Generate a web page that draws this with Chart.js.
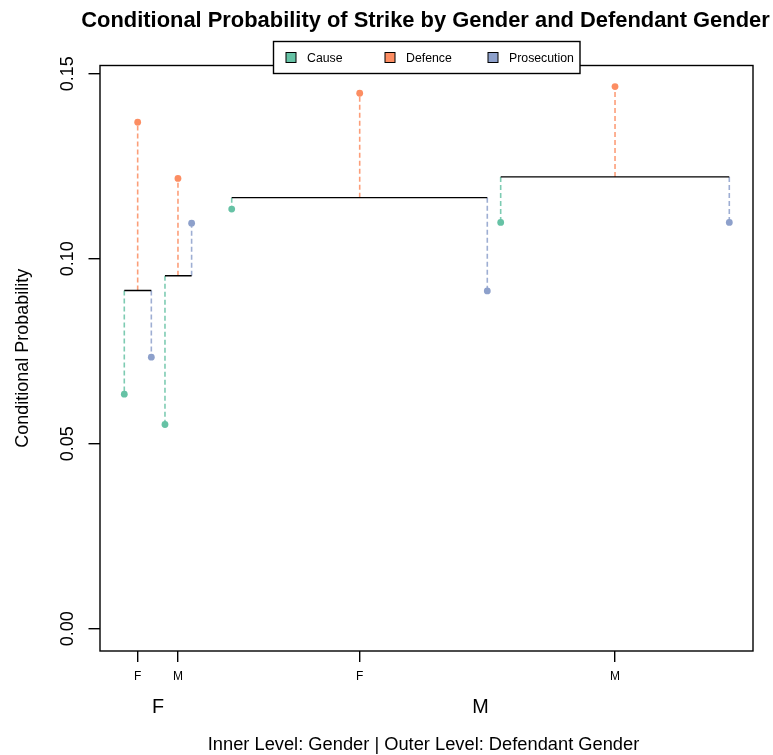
<!DOCTYPE html>
<html>
<head>
<meta charset="utf-8">
<script src="https://cdn.jsdelivr.net/npm/chart.js@4/dist/chart.umd.min.js"></script>
<style>
  html, body { margin: 0; padding: 0; background: #fff; }
  canvas { display: block; }
</style>
</head>
<body>
<canvas id="strike" width="773" height="755"></canvas>
<script>
  'use strict';

  // outcome categories and their Set2 colours
  var categories = ['Cause', 'Defence', 'Prosecution'];
  var categoryColors = ['#66C2A5', '#FC8D62', '#8DA0CB'];

  // inner level (gender) and outer level (defendant gender) of each group
  var innerLabels = ['F', 'M', 'F', 'M'];
  var outerLabels = ['F', 'F', 'M', 'M'];

  // horizontal position of each category within its group
  var xCause = [3.72, 9.95, 20.17, 61.36];
  var xDefence = [5.77, 11.94, 39.77, 78.87];
  var xProsecution = [7.86, 14.03, 59.31, 96.37];

  // conditional probability of a strike
  var causeValues = [0.0634, 0.0552, 0.1134, 0.1098];
  var defenceValues = [0.1369, 0.1217, 0.1447, 0.1465];
  var prosecutionValues = [0.0734, 0.1096, 0.0913, 0.1098];
  var groupMeans = [0.0914, 0.0954, 0.1165, 0.1221];

  var yTickValues = [0, 0.05, 0.10, 0.15];
  var yTickLabels = ['0.00', '0.05', '0.10', '0.15'];

  var FONT = '"Liberation Sans", Arial, sans-serif';

  function fade(hex, alpha) {
      var n = parseInt(hex.slice(1), 16);
      return 'rgba(' + (n >> 16) + ',' + ((n >> 8) & 255) + ',' + (n & 255) + ',' + alpha + ')';
  }

  // dashed drop from group mean to each value, with a dot on the value
  function stemData(xs, values) {
      var out = [];
      for (var i = 0; i < xs.length; i++) {
          out.push({x: xs[i], y: groupMeans[i]});
          out.push({x: xs[i], y: values[i]});
          out.push({x: xs[i], y: null});
      }
      return out;
  }

  var meanData = [];
  for (var g = 0; g < groupMeans.length; g++) {
      meanData.push({x: xCause[g], y: groupMeans[g]});
      meanData.push({x: xProsecution[g], y: groupMeans[g]});
      meanData.push({x: xProsecution[g], y: null});
  }

  var xsByCategory = [xCause, xDefence, xProsecution];
  var valuesByCategory = [causeValues, defenceValues, prosecutionValues];

  var datasets = [{
      label: 'mean',
      data: meanData,
      borderColor: '#000',
      borderWidth: 1.4,
      pointRadius: 0,
      spanGaps: false
  }];

  categories.forEach(function (name, c) {
      datasets.push({
          label: name,
          data: stemData(xsByCategory[c], valuesByCategory[c]),
          borderColor: fade(categoryColors[c], 0.85),
          borderWidth: 1.6,
          borderDash: [5, 3],
          spanGaps: false,
          pointRadius: function (ctx) { return ctx.dataIndex % 3 === 1 ? 3.4 : 0; },
          pointBackgroundColor: categoryColors[c],
          pointBorderWidth: 0,
          pointHoverRadius: 0
      });
  });

  // frame, titles, outer labels, rotated y labels and legend
  var decorations = {
      id: 'decorations',
      afterDraw: function (chart) {
          var ctx = chart.ctx;
          var area = chart.chartArea;
          var yScale = chart.scales.y;
          var xScale = chart.scales.x;
          var cx = (area.left + area.right) / 2;

          ctx.save();
          ctx.strokeStyle = '#000';
          ctx.lineWidth = 1.4;
          ctx.strokeRect(area.left, area.top, area.right - area.left, area.bottom - area.top);

          ctx.fillStyle = '#000';
          ctx.textAlign = 'center';
          ctx.textBaseline = 'alphabetic';

          ctx.font = 'bold 21.9px ' + FONT;
          ctx.fillText('Conditional Probability of Strike by Gender and Defendant Gender', cx - 1, 27);

          ctx.font = '18.3px ' + FONT;
          ctx.fillText('Inner Level: Gender | Outer Level: Defendant Gender', cx - 3, 750);

          // outer level labels, centred on their groups
          ctx.font = '19.8px ' + FONT;
          ['F', 'M'].forEach(function (lvl) {
              var lo = Infinity, hi = -Infinity;
              outerLabels.forEach(function (o, i) {
                  if (o !== lvl) return;
                  lo = Math.min(lo, xCause[i]);
                  hi = Math.max(hi, xProsecution[i]);
              });
              ctx.fillText(lvl, xScale.getPixelForValue((lo + hi) / 2), 713);
          });

          ctx.font = '18px ' + FONT;
          yTickValues.forEach(function (v, i) {
              ctx.save();
              ctx.translate(73, yScale.getPixelForValue(v));
              ctx.rotate(-Math.PI / 2);
              ctx.fillText(yTickLabels[i], 0, 0);
              ctx.restore();
          });

          ctx.save();
          ctx.translate(28, (area.top + area.bottom) / 2);
          ctx.rotate(-Math.PI / 2);
          ctx.fillText('Conditional Probability', 0, 0);
          ctx.restore();

          // legend
          var lx = 273.5, ly = 41.5, lw = 306.5, lh = 32;
          ctx.fillStyle = '#fff';
          ctx.fillRect(lx, ly, lw, lh);
          ctx.lineWidth = 1.4;
          ctx.strokeRect(lx, ly, lw, lh);
          ctx.font = '12.3px ' + FONT;
          ctx.textAlign = 'left';
          var boxX = [286, 385, 488];
          categories.forEach(function (name, c) {
              ctx.fillStyle = categoryColors[c];
              ctx.fillRect(boxX[c], 52.5, 10, 10);
              ctx.lineWidth = 1;
              ctx.strokeStyle = '#000';
              ctx.strokeRect(boxX[c], 52.5, 10, 10);
              ctx.fillStyle = '#000';
              ctx.fillText(name, boxX[c] + 21, 62);
          });
          ctx.restore();
      }
  };

  var ctx = document.getElementById('strike').getContext('2d');
  window.strikeChart = new Chart(ctx, {
      type: 'line',
      data: {datasets: datasets},
      plugins: [decorations],
      options: {
          responsive: false,
          animation: false,
          devicePixelRatio: 1,
          layout: {padding: {left: 0, top: 65.5, right: 20, bottom: 64}},
          plugins: {
              legend: {display: false},
              tooltip: {enabled: false},
              title: {display: false}
          },
          scales: {
              x: {
                  type: 'linear',
                  min: 0,
                  max: 100,
                  border: {display: false},
                  grid: {drawOnChartArea: false, drawTicks: true, tickLength: 11, color: '#000', lineWidth: 1.4},
                  afterBuildTicks: function (scale) {
                      scale.ticks = xDefence.map(function (v) { return {value: v}; });
                  },
                  ticks: {
                      autoSkip: false,
                      maxRotation: 0,
                      padding: 7,
                      color: '#000',
                      font: {family: FONT, size: 12},
                      callback: function (value, index) { return innerLabels[index]; }
                  },
                  afterFit: function (scale) { scale.height = 40; }
              },
              y: {
                  type: 'linear',
                  min: -0.006,
                  max: 0.1522,
                  border: {display: false},
                  grid: {drawOnChartArea: false, drawTicks: true, tickLength: 11.5, color: '#000', lineWidth: 1.4},
                  afterBuildTicks: function (scale) {
                      scale.ticks = yTickValues.map(function (v) { return {value: v}; });
                  },
                  ticks: {display: false},
                  afterFit: function (scale) { scale.width = 100; }
              }
          }
      }
  });
</script>
</body>
</html>
